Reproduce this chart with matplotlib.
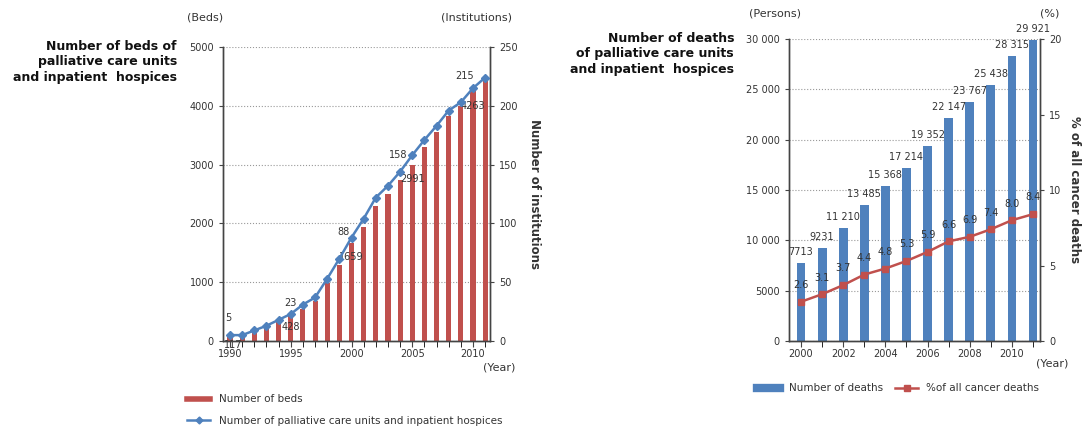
import matplotlib.pyplot as plt
from matplotlib.ticker import MultipleLocator, FuncFormatter
from matplotlib.lines import Line2D

years_a = list(range(1990, 2012))
beds = [117, 120, 160, 243, 340, 428, 538, 680, 980, 1285, 1659, 1942, 2293, 2492,
        2746, 2991, 3301, 3556, 3822, 4000, 4263, 4434]
units = [5, 5, 9, 13, 18, 23, 31, 37, 53, 70, 88, 104, 122, 132, 144, 158, 171, 183,
         196, 203, 215, 224]
label_years = [1990, 1995, 2000, 2005, 2010]

years_b = list(range(2000, 2012))
deaths = [7713, 9231, 11210, 13485, 15368, 17214, 19352, 22147, 23767, 25438, 28315, 29921]
pct = [2.6, 3.1, 3.7, 4.4, 4.8, 5.3, 5.9, 6.6, 6.9, 7.4, 8.0, 8.4]

RED = "#C0504D"
BLUE = "#4F81BD"
TXT = "#333333"

W, H = 1091, 428
fig = plt.figure(figsize=(W / 100, H / 100), dpi=100)


def px(x, y):
    return x / W, 1 - y / H


def fmt_sp(v, pos=None):
    v = int(round(v))
    if v >= 10000:
        return "{:,}".format(v).replace(",", " ")
    return str(v)


def style(ax, ax2):
    for a in (ax, ax2):
        a.spines["top"].set_visible(False)
        for s in ("left", "right", "bottom"):
            a.spines[s].set_color("#444444")
            a.spines[s].set_linewidth(1.0)
        a.tick_params(labelsize=7, colors="#444444", labelcolor=TXT, length=3)
    ax.tick_params(axis="x", which="both", direction="out", length=4, pad=2)
    ax.yaxis.grid(True, linestyle=":", color="#999999", linewidth=0.8)
    ax.set_axisbelow(True)


# ---- left chart
ax = fig.add_axes([223 / W, 1 - 341 / H, (490 - 223) / W, (341 - 47) / H])
ax2 = ax.twinx()
ax.bar(years_a, beds, width=0.42, color=RED, zorder=2)
ax2.plot(years_a, units, color=BLUE, marker="D", markersize=4, linewidth=1.8, zorder=3)
ax.set_xlim(1989.42, 2011.4)
ax.set_ylim(0, 5000)
ax2.set_ylim(0, 250)
ax.yaxis.set_major_locator(MultipleLocator(1000))
ax2.yaxis.set_major_locator(MultipleLocator(50))
ax.xaxis.set_major_locator(MultipleLocator(5))
ax.xaxis.set_minor_locator(MultipleLocator(1))
style(ax, ax2)

# value labels (offsets in points)
bed_off = {1990: (2, -8), 1995: (0, -8), 2000: (0, -10), 2005: (0, -10), 2010: (0, -11)}
unit_off = {1990: (-1, 12), 1995: (0, 8), 2000: (-6, 4), 2005: (-10, 0), 2010: (-6, 9)}
for yr in label_years:
    i = years_a.index(yr)
    ax.annotate(str(beds[i]), (yr, beds[i]), xytext=bed_off[yr], textcoords="offset points",
                fontsize=7, color=TXT, ha="center", va="center", annotation_clip=False)
    ax2.annotate(str(units[i]), (yr, units[i]), xytext=unit_off[yr], textcoords="offset points",
                 fontsize=7, color=TXT, ha="center", va="center")
ax2.set_ylabel("Number of institutions", rotation=-90, fontsize=8.5, fontweight="bold",
               color=TXT, labelpad=17)

fig.text(*px(205, 18), "(Beds)", fontsize=8, color=TXT, ha="center", va="center")
fig.text(*px(476, 18), "(Institutions)", fontsize=8, color=TXT, ha="center", va="center")
fig.text(*px(177, 40), "Number of beds of\npalliative care units\nand inpatient  hospices",
         fontsize=9, fontweight="bold", color="#111111", ha="right", va="top", linespacing=1.25)
fig.text(*px(483, 368), "(Year)", fontsize=8, color=TXT, ha="left", va="center")

fig.legend(handles=[Line2D([], [], color=RED, linewidth=4, label="Number of beds"),
                    Line2D([], [], color=BLUE, marker="D", markersize=3.5, linewidth=1.8,
                           label="Number of palliative care units and inpatient hospices")],
           loc="upper left", bbox_to_anchor=px(178, 385), frameon=False, fontsize=7.5,
           handlelength=2.2, labelspacing=1.1, labelcolor=TXT)

# ---- right chart
bx = fig.add_axes([789 / W, 1 - 341 / H, (1040 - 789) / W, (341 - 39) / H])
bx2 = bx.twinx()
bx.bar(years_b, deaths, width=0.42, color=BLUE, zorder=2)
bx2.plot(years_b, pct, color=RED, marker="s", markersize=4.5, linewidth=1.8, zorder=3)
bx.set_xlim(1999.43, 2011.33)
bx.set_ylim(0, 30000)
bx2.set_ylim(0, 20)
bx.yaxis.set_major_locator(MultipleLocator(5000))
bx.yaxis.set_major_formatter(FuncFormatter(fmt_sp))
bx2.yaxis.set_major_locator(MultipleLocator(5))
bx.xaxis.set_major_locator(MultipleLocator(2))
bx.xaxis.set_minor_locator(MultipleLocator(1))
style(bx, bx2)
for yr, v in zip(years_b, deaths):
    bx.annotate(fmt_sp(v), (yr, v), xytext=(0, 8), textcoords="offset points",
                fontsize=7, color=TXT, ha="center", va="center", annotation_clip=False)
for yr, v in zip(years_b, pct):
    bx2.annotate("{:.1f}".format(v), (yr, v), xytext=(0, 12), textcoords="offset points",
                 fontsize=7, color=TXT, ha="center", va="center")
bx2.set_ylabel("% of all cancer deaths", rotation=-90, fontsize=8.5, fontweight="bold",
               color=TXT, labelpad=14)

fig.text(*px(775, 14), "(Persons)", fontsize=8, color=TXT, ha="center", va="center")
fig.text(*px(1050, 14), "(%)", fontsize=8, color=TXT, ha="center", va="center")
fig.text(*px(734, 32), "Number of deaths\nof palliative care units\nand inpatient  hospices",
         fontsize=9, fontweight="bold", color="#111111", ha="right", va="top", linespacing=1.25)
fig.text(*px(1036, 364), "(Year)", fontsize=8, color=TXT, ha="left", va="center")

fig.legend(handles=[Line2D([], [], color=BLUE, linewidth=6, label="Number of deaths"),
                    Line2D([], [], color=RED, marker="s", markersize=4, linewidth=1.8,
                           label="%of all cancer deaths")],
           loc="upper left", bbox_to_anchor=px(748, 374), frameon=False, fontsize=7.5,
           ncol=2, handlelength=2.2, columnspacing=1.2, labelcolor=TXT)

fig.savefig("out.png", dpi=100)
